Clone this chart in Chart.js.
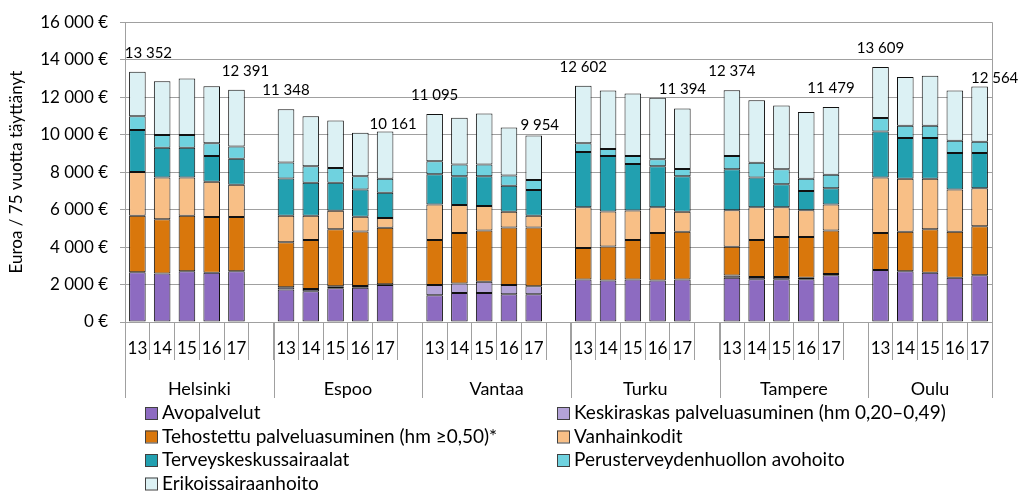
<!DOCTYPE html>
<html>
<head>
<meta charset="utf-8">
<script src="https://cdn.jsdelivr.net/npm/chart.js@4.4.1/dist/chart.umd.min.js"></script>
<style>
    html, body { margin: 0; padding: 0; background: #fff; }
</style>
</head>
<body>
<canvas id="costs-chart" width="1024" height="496"></canvas>
<script>
/*data*/
const cities = ['Helsinki', 'Espoo', 'Vantaa', 'Turku', 'Tampere', 'Oulu'];
const years = ['13', '14', '15', '16', '17'];

// one value per city and year, cities in the order above
const avopalvelut = [2652, 2583, 2705, 2635, 2705, 1728, 1640, 1797, 1832, 1972, 1431, 1553, 1553, 1483, 1483,
    2269, 2216, 2269, 2216, 2269, 2356, 2286, 2286, 2286, 2495, 2775, 2705, 2635, 2356, 2495];
const keskiraskas = [0, 0, 0, 0, 0, 120, 120, 110, 90, 40, 541, 506, 593, 489, 419,
    0, 0, 0, 0, 0, 130, 120, 120, 70, 70, 0, 0, 0, 0, 0];
const tehostettu = [3019, 2896, 2966, 2966, 2896, 2410, 2620, 3049, 2912, 3014, 2408, 2687, 2740, 3071, 3141,
    1675, 1815, 2111, 2530, 2547, 1528, 1974, 2131, 2181, 2321, 1971, 2111, 2321, 2460, 2618];
const vanhainkodit = [2339, 2234, 2042, 1885, 1728, 1413, 1291, 977, 785, 523, 1885, 1501, 1309, 838, 628,
    2181, 1867, 1570, 1379, 1065, 1954, 1745, 1588, 1431, 1379, 2967, 2827, 2687, 2251, 2024];
const terveyskeskus = [2233, 1588, 1588, 1379, 1379, 1990, 1763, 1501, 1448, 1344, 1622, 1536, 1588, 1396, 1379,
    2949, 2967, 2478, 2181, 1902, 2181, 1588, 1222, 1029, 872, 2460, 2181, 2181, 1955, 1885];
const perusterveys = [733, 680, 680, 680, 663, 855, 872, 785, 716, 750, 698, 628, 628, 541, 523,
    471, 366, 437, 384, 384, 716, 785, 802, 646, 716, 716, 646, 646, 645, 593];
const erikoissairaanhoito = [2376, 2862, 3019, 3036, 3020, 2832, 2670, 2530, 2321, 2518, 2510, 2495, 2722, 2565, 2381,
    3057, 3124, 3333, 3282, 3227, 3509, 3333, 3403, 3560, 3626, 2720, 2600, 2670, 2688, 2949];

const seriesNames = [
    'Avopalvelut',
    'Keskiraskas palveluasuminen (hm 0,20–0,49)',
    'Tehostettu palveluasuminen (hm ≥0,50)*',
    'Vanhainkodit',
    'Terveyskeskussairaalat',
    'Perusterveydenhuollon avohoito',
    'Erikoissairaanhoito'
];
const seriesValues = [avopalvelut, keskiraskas, tehostettu, vanhainkodit, terveyskeskus, perusterveys, erikoissairaanhoito];
const seriesColors = ['#8d6bc1', '#b4a3d8', '#d9770c', '#f8bf86', '#22a0b0', '#6fd2df', '#dcf1f4'];
/**/

const FONT = 'Lato, "DejaVu Sans", sans-serif';

// 6 cities x 5 years, with an empty slot between cities
function withGaps(values) {
    let out = [];
    cities.forEach((city, i) => {
        out.push(...values.slice(i * years.length, (i + 1) * years.length));
        if (i < cities.length - 1) out.push(null);
    });
    return out;
}

let labels = withGaps(cities.flatMap(() => years)).map(l => l === null ? '' : l);
let slotsPerCity = years.length + 1;

function fmt(v) {
    return String(Math.round(v)).replace(/\B(?=(\d{3})+(?!\d))/g, '\u00a0');
}

// totals are printed over the first and last bar of each city
let labelShift = {
    0: [11, 0], 4: [9, 0], 10: [8, 12], 16: [6, 9], 34: [15, 11]
};

let cityPlugin = {
    id: 'cityPlugin',
    afterDatasetsDraw(chart) {
        let ctx = chart.ctx;
        let x = chart.scales.x;
        let y = chart.scales.y;
        ctx.save();
        ctx.font = '15px ' + FONT;
        ctx.fillStyle = '#000';
        ctx.textAlign = 'center';
        ctx.textBaseline = 'middle';
        cities.forEach((city, c) => {
            [0, years.length - 1].forEach(k => {
                let idx = c * slotsPerCity + k;
                let total = 0;
                chart.data.datasets.forEach(ds => { total += ds.data[idx] || 0; });
                let shift = labelShift[idx] || [0, 0];
                ctx.fillText(fmt(total), x.getPixelForValue(idx) + shift[0], y.getPixelForValue(total) - 19 + shift[1]);
            });
        });
        ctx.restore();
    },
    afterDraw(chart) {
        let ctx = chart.ctx;
        let x = chart.scales.x;
        let area = chart.chartArea;
        let slot = x.width / labels.length;
        ctx.save();
        // frame on the right
        ctx.strokeStyle = '#a0a0a0';
        ctx.lineWidth = 1;
        ctx.beginPath();
        ctx.moveTo(Math.round(area.right) + 0.5, area.top);
        ctx.lineTo(Math.round(area.right) + 0.5, area.bottom);
        ctx.stroke();

        // city groups under the years
        ctx.font = '18px ' + FONT;
        ctx.fillStyle = '#000';
        ctx.textAlign = 'center';
        ctx.textBaseline = 'middle';
        cities.forEach((city, c) => {
            let left = x.getPixelForValue(c * slotsPerCity) - slot / 2;
            let right = c < cities.length - 1 ? left + slot * slotsPerCity : x.right;
            ctx.beginPath();
            ctx.moveTo(Math.round(left) + 0.5, x.top);
            ctx.lineTo(Math.round(left) + 0.5, x.top + 76);
            if (c === cities.length - 1) {
                ctx.moveTo(Math.round(right) + 0.5, x.top);
                ctx.lineTo(Math.round(right) + 0.5, x.top + 76);
            }
            ctx.stroke();
            ctx.fillText(city, (left + right) / 2, x.top + 67);
        });

        // legend in two columns
        ctx.font = '19px ' + FONT;
        ctx.textAlign = 'left';
        chart.data.datasets.forEach((ds, i) => {
            let lx = i % 2 === 0 ? 145 : 557;
            let ly = 413 + Math.floor(i / 2) * 23.5;
            ctx.fillStyle = ds.backgroundColor;
            ctx.fillRect(lx, ly - 6, 12, 12);
            ctx.strokeStyle = '#404040';
            ctx.strokeRect(lx + 0.5, ly - 5.5, 12, 12);
            ctx.fillStyle = '#000';
            ctx.fillText(ds.label, lx + 17, ly);
        });
        ctx.restore();
    }
};

window.onload = function() {
    let canvas = document.getElementById('costs-chart');

    let datasets = seriesNames.map((name, i) => ({
        label: name,
        // empty segments are left out so they add no extra border line
        data: withGaps(seriesValues[i]).map(v => v === 0 ? null : v),
        backgroundColor: seriesColors[i],
        borderColor: '#111',
        borderWidth: 1,
        borderSkipped: false,
        barPercentage: 0.67,
        categoryPercentage: 1
    }));

    new Chart(canvas, {
        type: 'bar',
        data: { labels: labels, datasets: datasets },
        options: {
            responsive: false,
            animation: false,
            devicePixelRatio: 1,
            layout: { padding: { top: 16, right: 32, left: 0, bottom: 0 } },
            plugins: {
                legend: { display: false },
                tooltip: { enabled: false }
            },
            scales: {
                x: {
                    stacked: true,
                    grid: { offset: true, drawOnChartArea: false, tickLength: 38, color: '#a0a0a0' },
                    border: { color: '#a0a0a0' },
                    ticks: {
                        padding: -22,
                        color: '#000',
                        autoSkip: false,
                        maxRotation: 0,
                        font: { family: FONT, size: 17 }
                    },
                    afterFit: scale => { scale.height = 174; }
                },
                y: {
                    stacked: true,
                    min: 0,
                    max: 16000,
                    grid: { color: '#a0a0a0', tickLength: 5 },
                    border: { color: '#a0a0a0' },
                    ticks: {
                        stepSize: 2000,
                        padding: 12,
                        color: '#000',
                        font: { family: FONT, size: 17 },
                        callback: v => fmt(v) + '\u00a0€'
                    },
                    title: {
                        display: true,
                        text: 'Euroa / 75 vuotta täyttänyt',
                        color: '#000',
                        font: { family: FONT, size: 17 },
                        padding: { top: 6, bottom: 0 }
                    },
                    afterFit: scale => { scale.width = 125; }
                }
            }
        },
        plugins: [cityPlugin]
    });
};
</script>
</body>
</html>
